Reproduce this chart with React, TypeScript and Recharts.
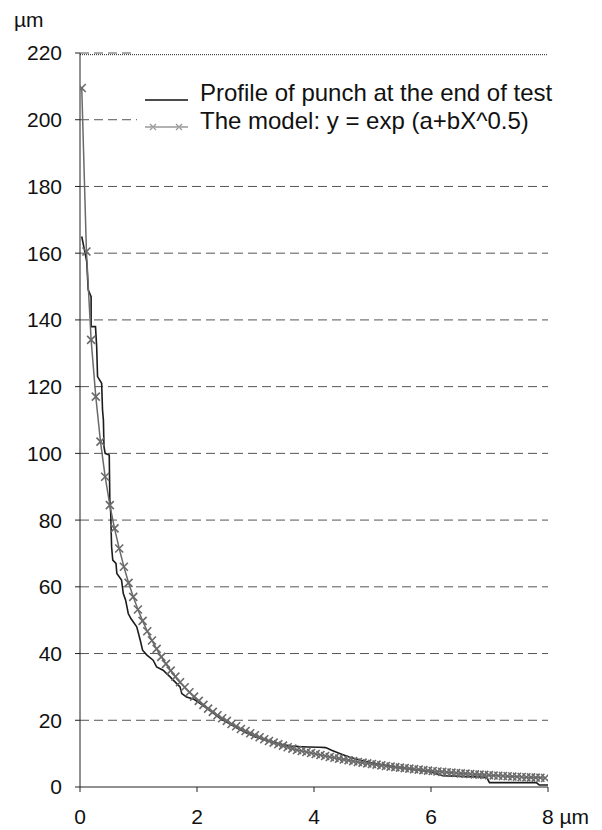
import React from 'react';
import { LineChart, Line, XAxis, YAxis, CartesianGrid, ReferenceLine } from 'recharts';

// Model curve: y = exp(a + b X^0.5)
const modelX = [
  0.03, 0.11, 0.19, 0.27, 0.35, 0.43, 0.51, 0.59, 0.67, 0.75,
  0.83, 0.91, 0.99, 1.07, 1.15, 1.23, 1.31, 1.39, 1.47, 1.55,
  1.63, 1.71, 1.79, 1.87, 1.95, 2.03, 2.11, 2.19, 2.27, 2.35,
  2.43, 2.51, 2.59, 2.67, 2.75, 2.83, 2.91, 2.99, 3.07, 3.15,
  3.23, 3.31, 3.39, 3.47, 3.55, 3.63, 3.71, 3.79, 3.87, 3.95,
  4.03, 4.11, 4.19, 4.27, 4.35, 4.43, 4.51, 4.59, 4.67, 4.75,
  4.83, 4.91, 4.99, 5.07, 5.15, 5.23, 5.31, 5.39, 5.47, 5.55,
  5.63, 5.71, 5.79, 5.87, 5.95, 6.03, 6.11, 6.19, 6.27, 6.35,
  6.43, 6.51, 6.59, 6.67, 6.75, 6.83, 6.91, 6.99, 7.07, 7.15,
  7.23, 7.31, 7.39, 7.47, 7.55, 7.63, 7.71, 7.79, 7.87, 7.95,
];
const modelY = [
  209.5, 160.5, 134.0, 117.0, 103.5, 93.0, 84.5, 77.5, 71.5, 66.0,
  61.2, 57.0, 53.2, 49.8, 46.7, 43.9, 41.4, 39.0, 36.9, 34.9,
  33.1, 31.4, 29.9, 28.4, 27.1, 25.8, 24.6, 23.5, 22.5, 21.5,
  20.6, 19.8, 18.9, 18.2, 17.4, 16.8, 16.1, 15.5, 14.9, 14.3,
  13.8, 13.3, 12.8, 12.4, 11.9, 11.5, 11.1, 10.8, 10.5, 10.2,
  9.9, 9.6, 9.3, 9.0, 8.75, 8.5, 8.25, 8.0, 7.75, 7.5,
  7.3, 7.1, 6.9, 6.7, 6.5, 6.3, 6.1, 5.95, 5.8, 5.65,
  5.5, 5.35, 5.2, 5.05, 4.9, 4.78, 4.66, 4.54, 4.42, 4.3,
  4.2, 4.1, 4.0, 3.9, 3.8, 3.7, 3.62, 3.54, 3.46, 3.38,
  3.3, 3.22, 3.15, 3.08, 3.01, 2.94, 2.88, 2.82, 2.76, 2.7,
];

// Measured profile of the punch (stepped)
const profileX = [
  0.03, 0.115, 0.14, 0.19, 0.19, 0.265, 0.285, 0.3, 0.37, 0.385,
  0.4, 0.41, 0.43, 0.5, 0.51, 0.525, 0.54, 0.56, 0.615, 0.63,
  0.71, 0.74, 0.78, 0.825, 0.87, 0.97, 1.03, 1.07, 1.14, 1.25,
  1.31, 1.42, 1.54, 1.62, 1.71, 1.74, 1.82, 1.95, 2.1, 2.25,
  2.4, 2.55, 2.7, 2.85, 3.0, 3.15, 3.3, 3.45, 3.6, 3.75,
  3.9, 4.1, 4.2, 4.3, 4.45, 4.6, 4.8, 5.0, 5.2, 5.4,
  5.6, 5.8, 6.0, 6.2, 6.6, 6.65, 6.95, 7.0, 7.8, 7.85, 8.0,
];
const profileY = [
  165, 157.5, 149, 147, 138, 138, 132, 123, 121, 113,
  110, 102, 100, 99.5, 86, 82, 72, 68, 67, 64,
  62, 58, 56, 52, 50.5, 48, 44, 41, 39.6, 38,
  36, 35, 33, 31.6, 30, 28, 27, 26.3, 24.5, 22.5,
  20.5, 19, 17.5, 16.2, 15, 14.2, 13.5, 12.8, 12.3, 12.1,
  12, 11.9, 11.8, 11, 10, 9, 8, 7.2, 6.6, 6,
  5.5, 5, 4.5, 3.4, 3.1, 3.1, 2.9, 1.3, 1.3, 0.6, 0.6,
];

const yTicks = [0, 20, 40, 60, 80, 100, 120, 140, 160, 180, 200, 220];
const gridValues = [20, 40, 60, 80, 100, 120, 140, 160, 180, 200];
const xTicks = [0, 2, 4, 6, 8];
const unitLabel = 'µm';
const legendLabels = ['Profile of punch at the end of test', 'The model: y = exp (a+bX^0.5)'];

const modelData = modelX.map((x, i) => ({ x, y: modelY[i] }));
const profileData = profileX.map((x, i) => ({ x, y: profileY[i] }));

const FONT = '"Liberation Sans", Arial, Helvetica, sans-serif';
const MODEL_COLOR = '#6a6a6a';
const TICK_FONT = 21;

const XMark = (props: any) => {
  const { cx, cy, index } = props;
  if (cx == null || cy == null) return <g key={`m${index}`} />;
  const r = 4;
  return (
    <path
      key={`m${index}`}
      d={`M${cx - r},${cy - r}L${cx + r},${cy + r}M${cx - r},${cy + r}L${cx + r},${cy - r}`}
      stroke={MODEL_COLOR}
      strokeWidth={1.6}
      fill="none"
    />
  );
};

const XTick = (props: any) => {
  const { x, y, payload } = props;
  const last = payload.value === xTicks[xTicks.length - 1];
  return (
    <text
      x={last ? x - 6 : x}
      y={y}
      dy="0.71em"
      textAnchor={last ? 'start' : 'middle'}
      fill="#111"
      fontSize={TICK_FONT}
      fontFamily={FONT}
    >
      {last ? `${payload.value} ${unitLabel}` : payload.value}
    </text>
  );
};

export default function App() {
  return (
    <div style={{ position: 'absolute', left: 0, top: 0, width: 602, height: 830, background: '#fff' }}>
      <LineChart
        width={602}
        height={830}
        margin={{ top: 53, right: 54, bottom: 13, left: 30 }}
      >
        <CartesianGrid
          vertical={false}
          horizontalValues={gridValues}
          stroke="#555"
          strokeDasharray="9 5"
        />
        <ReferenceLine
          segment={[{ x: 0, y: 220 }, { x: 0.95, y: 220 }]}
          stroke="#555"
          strokeDasharray="9 5"
        />
        <ReferenceLine y={219.5} stroke="#222" strokeDasharray="1 1" />
        <XAxis
          dataKey="x"
          type="number"
          domain={[0, 8]}
          ticks={xTicks}
          allowDataOverflow
          height={30}
          tickSize={5}
          tickMargin={17}
          stroke="#222"
          tick={<XTick />}
        />
        <YAxis
          dataKey="y"
          type="number"
          domain={[0, 220]}
          ticks={yTicks}
          allowDataOverflow
          width={50}
          tickSize={5}
          tickMargin={13}
          stroke="#222"
          tick={{ fill: '#111', fontSize: TICK_FONT, fontFamily: FONT }}
        />
        <Line
          data={profileData}
          dataKey="y"
          type="linear"
          stroke="#1c1c1c"
          strokeWidth={1.6}
          dot={false}
          isAnimationActive={false}
        />
        <Line
          data={modelData}
          dataKey="y"
          type="linear"
          stroke={MODEL_COLOR}
          strokeWidth={1.5}
          dot={(p: any) => <XMark {...p} />}
          isAnimationActive={false}
        />
      </LineChart>
      <svg
        width={602}
        height={830}
        style={{ position: 'absolute', left: 0, top: 0, pointerEvents: 'none' }}
      >
        <text x={14} y={27} fontSize={TICK_FONT} fontFamily={FONT} fill="#111">{unitLabel}</text>
        <rect x={137} y={56} width={411} height={84} fill="#fff" />
        <line x1={145} x2={188} y1={100} y2={100} stroke="#111" strokeWidth={1.5} />
        <line x1={145} x2={188} y1={127} y2={127} stroke="#999" strokeWidth={1.5} />
        <path d="M150,124L156,130M150,130L156,124M176,124L182,130M176,130L182,124" stroke="#999" strokeWidth={1.3} fill="none" />
        <text x={200} y={101} fontSize={24} fontFamily={FONT} fill="#111">{legendLabels[0]}</text>
        <text x={200} y={129} fontSize={24} fontFamily={FONT} fill="#111">{legendLabels[1]}</text>
      </svg>
    </div>
  );
}
